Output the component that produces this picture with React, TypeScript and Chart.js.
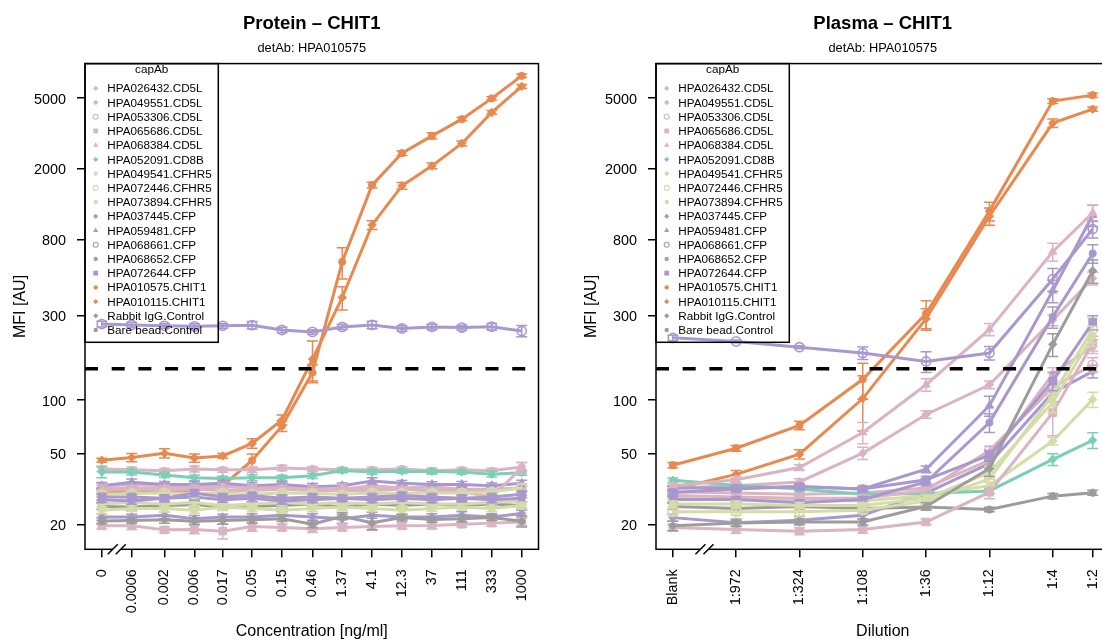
import React, { useEffect, useRef } from 'react';
import { Chart, registerables } from 'chart.js';

Chart.register(...registerables);

const FONT = '"Liberation Sans", Arial, Helvetica, sans-serif';

// ---------------------------------------------------------------- axes
const concLabels = ['0', '0.0006', '0.002', '0.006', '0.017', '0.05', '0.15', '0.46', '1.37', '4.1', '12.3', '37', '111', '333', '1000'];
const concValues = [0, 0.0006, 0.002, 0.006, 0.017, 0.05, 0.15, 0.46, 1.37, 4.1, 12.3, 37, 111, 333, 1000];
const zeroConcPosition = 0.0002; // the 0 ng/ml standard is drawn one 3-fold step left of the break

const dilutionLabels = ['Blank', '1:972', '1:324', '1:108', '1:36', '1:12', '1:4', '1:2'];
const dilutionFactors = [2916, 972, 324, 108, 36, 12, 4, 2]; // blank sits one 3-fold step before 1:972

const mfiTicks = [20, 50, 100, 300, 800, 2000, 5000];
const mfiMin = 14.46;
const mfiMax = 7834;
const cutoffMFI = 150;

// ---------------------------------------------------------------- capture antibodies
type Shape = 'diamond' | 'dot' | 'ring' | 'square' | 'triangle';

const capAbNames = [
  'HPA026432.CD5L', 'HPA049551.CD5L', 'HPA053306.CD5L', 'HPA065686.CD5L', 'HPA068384.CD5L',
  'HPA052091.CD8B',
  'HPA049541.CFHR5', 'HPA072446.CFHR5', 'HPA073894.CFHR5',
  'HPA037445.CFP', 'HPA059481.CFP', 'HPA068661.CFP', 'HPA068652.CFP', 'HPA072644.CFP',
  'HPA010575.CHIT1', 'HPA010115.CHIT1',
  'Rabbit IgG.Control', 'Bare bead.Control',
];
const capAbShapes: Shape[] = [
  'diamond', 'dot', 'ring', 'square', 'triangle',
  'diamond',
  'diamond', 'ring', 'dot',
  'diamond', 'triangle', 'ring', 'dot', 'square',
  'dot', 'diamond',
  'diamond', 'dot',
];
const targetColors: Record<string, string> = {
  CD5L: '#DAB4C3',
  CD8B: '#7BCFB6',
  CFHR5: '#D4DCA7',
  CFP: '#A898CE',
  CHIT1: '#E8894F',
  Control: '#9C9C9C',
};

// ---------------------------------------------------------------- protein dilution series (MFI, mean and sd)
const pCD5L_026432 = [33, 33.5, 33, 32.5, 33, 32, 33, 32.5, 31.5, 33, 32, 32.5, 31.5, 31.5, 32];
const pCD5L_026432_sd = [1.5, 1.2, 1.4, 1.1, 1.6, 1.2, 1.3, 1.5, 1.2, 1.4, 1.1, 1.3, 1.2, 1.4, 1.6];
const pCD5L_049551 = [41, 40.5, 40, 41, 40.5, 40.5, 41.5, 41, 40.5, 40.5, 41, 40, 40.5, 40, 42];
const pCD5L_049551_sd = [1.4, 1.5, 1.2, 1.6, 1.3, 1.4, 1.5, 1.2, 1.3, 1.4, 1.2, 1.5, 1.3, 1.4, 2.5];
const pCD5L_053306 = [31, 31.5, 31, 31.5, 31, 31, 31.5, 31, 31, 31, 31.5, 31, 31.5, 31, 32];
const pCD5L_053306_sd = [1.2, 1.1, 1.3, 1.2, 1.0, 1.2, 1.1, 1.3, 1.2, 1.1, 1.2, 1.0, 1.2, 1.1, 1.5];
const pCD5L_065686 = [19.6, 19.6, 18.6, 18.7, 18.3, 19.4, 19.2, 18.9, 19.2, 19.4, 19.6, 19.7, 20, 20.3, 20.6];
const pCD5L_065686_sd = [0.8, 0.9, 0.7, 1.0, 1.8, 1.1, 0.8, 0.9, 0.8, 0.9, 0.8, 0.8, 0.7, 0.8, 1.0];
const pCD5L_068384 = [32, 32, 32, 32, 32.5, 32, 32, 31.5, 32, 31.5, 31.5, 31, 30.5, 28.5, 41.5];
const pCD5L_068384_sd = [1.3, 1.2, 1.1, 1.2, 1.3, 1.2, 1.1, 1.2, 1.3, 1.2, 1.1, 1.2, 1.2, 1.3, 3.0];
const pCD8B_052091 = [39.4, 39.4, 37.9, 36.6, 36.2, 36.6, 36.6, 37.5, 40.2, 39.4, 39.8, 39.6, 39.4, 38.3, 39];
const pCD8B_052091_sd = [2.8, 1.5, 1.2, 1.3, 1.1, 1.4, 1.2, 1.3, 1.2, 1.3, 1.1, 1.2, 1.2, 1.4, 1.3];
const pCFHR5_049541 = [26, 26.5, 26, 26.5, 25.5, 26, 26.5, 26, 26.5, 26, 26.5, 26, 26, 26.5, 27];
const pCFHR5_049541_sd = [1.0, 0.9, 1.1, 1.0, 1.2, 0.9, 1.0, 1.1, 0.9, 1.0, 1.1, 0.9, 1.0, 1.0, 1.2];
const pCFHR5_072446 = [29.5, 29.8, 30, 29.5, 30, 29.5, 30, 29.8, 29.5, 30, 29.8, 30, 30, 30.5, 32];
const pCFHR5_072446_sd = [1.1, 1.0, 1.2, 1.1, 1.0, 1.2, 1.1, 1.0, 1.1, 1.2, 1.0, 1.1, 1.0, 1.2, 1.8];
const pCFHR5_073894 = [24, 24.5, 24.5, 24, 25, 24.5, 24, 24.5, 25, 24.5, 24, 24.5, 25, 24.5, 25.5];
const pCFHR5_073894_sd = [1.0, 0.9, 1.0, 0.9, 1.1, 1.0, 0.9, 1.0, 1.1, 0.9, 1.0, 0.9, 1.0, 1.0, 1.1];
const pCFP_037445 = [22, 22, 22.5, 21.5, 22, 22, 22.5, 22, 21.5, 22.5, 22, 22, 22.5, 22, 23];
const pCFP_037445_sd = [0.9, 0.8, 1.0, 0.9, 0.8, 0.9, 1.0, 0.9, 1.2, 0.9, 0.8, 0.9, 1.0, 0.9, 1.0];
const pCFP_059481 = [33, 34.5, 33.5, 33.5, 34, 33, 33.5, 32.5, 33, 35, 34, 33.5, 33.5, 33, 34];
const pCFP_059481_sd = [1.2, 1.5, 1.3, 1.2, 1.4, 1.3, 1.2, 1.3, 1.2, 1.5, 1.3, 1.2, 1.3, 1.2, 1.4];
const pCFP_068661 = [268, 265, 262, 260, 262, 264, 248, 242, 258, 265, 253, 258, 256, 259, 245];
const pCFP_068661_sd = [10, 9, 8, 9, 8, 13, 9, 7, 8, 13, 9, 9, 8, 11, 18];
const pCFP_068652 = [27.5, 27, 28, 28.5, 27.5, 28, 27, 27.5, 28, 27.5, 28, 27.5, 28, 27.5, 28];
const pCFP_068652_sd = [1.0, 1.1, 1.0, 1.2, 1.0, 1.1, 1.0, 1.1, 1.0, 1.1, 1.0, 1.1, 1.0, 1.1, 1.2];
const pCFP_072644 = [28.5, 28.5, 28, 30, 28.5, 29, 28, 28.5, 28, 28.5, 29, 28.5, 28, 28.5, 29.5];
const pCFP_072644_sd = [1.1, 1.0, 1.1, 1.3, 1.2, 1.1, 1.0, 1.1, 1.0, 1.1, 1.2, 1.0, 1.1, 1.0, 1.2];
const pCHIT1_010575 = [30.5, 30, 30.5, 31, 33, 45.7, 71.6, 143, 600, 1622, 2454, 3072, 3814, 4990, 6686];
const pCHIT1_010575_sd = [1, 1, 1, 1, 1.5, 4, 5, 15, 120, 60, 70, 120, 80, 110, 150];
const pCHIT1_010115 = [45.9, 47.5, 50.2, 47.2, 48.5, 57, 77.3, 170, 378, 968, 1607, 2082, 2784, 4160, 5828];
const pCHIT1_010115_sd = [1.2, 2.5, 3, 2.5, 1.5, 3.5, 5, 45, 57, 55, 70, 80, 90, 100, 150];
const pCtrl_RabbitIgG = [20.9, 21, 21.2, 20.8, 21, 21.2, 21.5, 20, 22.2, 20.4, 21.8, 21.3, 21.5, 21.8, 20.8];
const pCtrl_RabbitIgG_sd = [0.8, 0.7, 0.9, 0.8, 1.0, 0.9, 0.8, 0.9, 1.0, 1.8, 0.9, 0.8, 0.9, 0.8, 1.5];
const pCtrl_BareBead = [25.2, 25, 25.5, 25.8, 25, 25.3, 25.5, 26, 25, 26, 25.5, 26, 25.5, 26, 25.5];
const pCtrl_BareBead_sd = [1.0, 0.9, 1.0, 1.1, 0.9, 1.0, 0.9, 1.0, 1.1, 1.0, 0.9, 1.0, 0.9, 1.0, 1.0];

// ---------------------------------------------------------------- plasma dilution series (MFI, mean and sd)
const lCD5L_026432 = [32, 33, 34.6, 50.3, 83, 122, 282, 484];
const lCD5L_026432_sd = [1.2, 1.3, 1.5, 4, 4, 6, 20, 40];
const lCD5L_049551 = [30.5, 30, 29.5, 30, 32, 46, 140, 201];
const lCD5L_049551_sd = [1, 1, 1, 1, 1.5, 3, 12, 18];
const lCD5L_053306 = [29, 28.5, 28, 28, 31, 52, 118, 158];
const lCD5L_053306_sd = [1, 1, 1, 1, 1.5, 3, 10, 15];
const lCD5L_065686 = [19.2, 18.7, 18.3, 18.7, 20.6, 30.3, 85, 209];
const lCD5L_065686_sd = [0.8, 0.9, 0.8, 0.9, 0.8, 2.5, 22, 20];
const lCD5L_068384 = [33, 35.6, 41.7, 65.7, 122, 250, 684, 1133];
const lCD5L_068384_sd = [1.2, 1.5, 1.5, 9, 10, 20, 80, 120];
const lCD8B_052091 = [35.4, 33.2, 31.6, 29.5, 29.8, 30.8, 46.4, 59.4];
const lCD8B_052091_sd = [1, 1, 1, 1, 1, 1, 3.5, 6];
const lCFHR5_049541 = [28, 27.5, 27.5, 27, 29, 33, 58.8, 100.7];
const lCFHR5_049541_sd = [1, 1, 1, 1, 1, 1.5, 3, 10];
const lCFHR5_072446 = [23.5, 23.5, 23.5, 24, 27, 36, 107, 250];
const lCFHR5_072446_sd = [1, 1, 1.2, 1, 1.2, 3, 15, 40];
const lCFHR5_073894 = [26, 26, 25.5, 25.5, 28, 39, 97, 230];
const lCFHR5_073894_sd = [1, 1, 1, 1, 1.2, 3, 12, 30];
const lCFP_037445 = [21.8, 20.4, 21.1, 22.5, 30, 44, 110, 145];
const lCFP_037445_sd = [1, 1, 1, 1, 1.2, 3, 12, 12];
const lCFP_059481 = [32, 32, 32.5, 31.6, 40.8, 93, 413, 1100];
const lCFP_059481_sd = [1, 1, 1, 1, 1.8, 12, 60, 150];
const lCFP_068661 = [224, 214, 198.5, 184, 165, 184, 480, 918];
const lCFP_068661_sd = [8, 4, 4, 15, 22, 16, 70, 100];
const lCFP_068652 = [27.6, 27.6, 26.4, 27.6, 34.6, 74.7, 294, 669];
const lCFP_068652_sd = [1, 1, 1, 1, 1.5, 9, 40, 80];
const lCFP_072644 = [30.2, 31.6, 32.6, 31.6, 35.6, 49, 128, 273];
const lCFP_072644_sd = [1, 1, 1.2, 1, 1.5, 3, 15, 25];
const lCHIT1_010575 = [43, 53.6, 72, 131, 307, 1158, 4817, 5206];
const lCHIT1_010575_sd = [1.5, 2, 4, 30, 55, 140, 150, 150];
const lCHIT1_010115 = [31.5, 38.2, 49.6, 102, 287, 1084, 3623, 4341];
const lCHIT1_010115_sd = [1, 2, 3, 35, 40, 120, 200, 120];
const lCtrl_RabbitIgG = [19.6, 20.3, 20.6, 20.6, 25.2, 41.2, 206, 534];
const lCtrl_RabbitIgG_sd = [1.2, 0.8, 0.8, 0.8, 1.2, 4, 30, 80];
const lCtrl_BareBead = [25.2, 24.5, 25.2, 24.5, 25, 24.2, 28.8, 30.1];
const lCtrl_BareBead_sd = [1, 0.8, 0.8, 0.8, 0.8, 0.7, 1, 1];

const proteinMFI = [
  pCD5L_026432, pCD5L_049551, pCD5L_053306, pCD5L_065686, pCD5L_068384, pCD8B_052091,
  pCFHR5_049541, pCFHR5_072446, pCFHR5_073894, pCFP_037445, pCFP_059481, pCFP_068661,
  pCFP_068652, pCFP_072644, pCHIT1_010575, pCHIT1_010115, pCtrl_RabbitIgG, pCtrl_BareBead,
];
const proteinSD = [
  pCD5L_026432_sd, pCD5L_049551_sd, pCD5L_053306_sd, pCD5L_065686_sd, pCD5L_068384_sd, pCD8B_052091_sd,
  pCFHR5_049541_sd, pCFHR5_072446_sd, pCFHR5_073894_sd, pCFP_037445_sd, pCFP_059481_sd, pCFP_068661_sd,
  pCFP_068652_sd, pCFP_072644_sd, pCHIT1_010575_sd, pCHIT1_010115_sd, pCtrl_RabbitIgG_sd, pCtrl_BareBead_sd,
];
const plasmaMFI = [
  lCD5L_026432, lCD5L_049551, lCD5L_053306, lCD5L_065686, lCD5L_068384, lCD8B_052091,
  lCFHR5_049541, lCFHR5_072446, lCFHR5_073894, lCFP_037445, lCFP_059481, lCFP_068661,
  lCFP_068652, lCFP_072644, lCHIT1_010575, lCHIT1_010115, lCtrl_RabbitIgG, lCtrl_BareBead,
];
const plasmaSD = [
  lCD5L_026432_sd, lCD5L_049551_sd, lCD5L_053306_sd, lCD5L_065686_sd, lCD5L_068384_sd, lCD8B_052091_sd,
  lCFHR5_049541_sd, lCFHR5_072446_sd, lCFHR5_073894_sd, lCFP_037445_sd, lCFP_059481_sd, lCFP_068661_sd,
  lCFP_068652_sd, lCFP_072644_sd, lCHIT1_010575_sd, lCHIT1_010115_sd, lCtrl_RabbitIgG_sd, lCtrl_BareBead_sd,
];

// ---------------------------------------------------------------- layout
const CANVAS_W = 571;
const CANVAS_H = 643;
const PLOT_LEFT = 85;
const PLOT_RIGHT = 538.5;
const PLOT_TOP = 63.6;
const PLOT_BOTTOM = 549.3;

const colorOf = (name: string) => targetColors[name.split('.').pop() as string];

// series are painted in alphabetical order of capture antibody (first name at the bottom)
const paintOrder = [...capAbNames].sort();

function pointStyleOf(shape: Shape) {
  switch (shape) {
    case 'diamond': return { style: 'rectRot', radius: 4.2 };
    case 'dot': return { style: 'circle', radius: 3.6 };
    case 'ring': return { style: 'circle', radius: 4.6 };
    case 'square': return { style: 'rect', radius: 5.4 };
    default: return { style: 'triangle', radius: 4.8 };
  }
}

function drawLegendMarker(ctx: CanvasRenderingContext2D, shape: Shape, x: number, y: number, color: string) {
  ctx.save();
  ctx.fillStyle = color;
  ctx.strokeStyle = color;
  ctx.lineWidth = 1.1;
  ctx.beginPath();
  if (shape === 'diamond') {
    const r = 2.6;
    ctx.moveTo(x, y - r); ctx.lineTo(x + r, y); ctx.lineTo(x, y + r); ctx.lineTo(x - r, y); ctx.closePath();
    ctx.fill();
  } else if (shape === 'dot') {
    ctx.arc(x, y, 2.2, 0, Math.PI * 2); ctx.fill();
  } else if (shape === 'ring') {
    ctx.arc(x, y, 2.5, 0, Math.PI * 2); ctx.stroke();
  } else if (shape === 'square') {
    ctx.rect(x - 2.4, y - 2.4, 4.8, 4.8); ctx.fill();
  } else {
    const r = 3;
    ctx.moveTo(x, y - r); ctx.lineTo(x + r * 0.87, y + r * 0.5); ctx.lineTo(x - r * 0.87, y + r * 0.5); ctx.closePath();
    ctx.fill();
  }
  ctx.restore();
}

interface PanelSpec {
  title: string;
  subtitle: string;
  xTitle: string;
  xPositions: number[];
  xLabels: string[];
  values: number[][];
  sds: number[][];
}

function makeDecor(spec: PanelSpec) {
  return {
    id: 'panelDecor',
    afterDatasetDraw(chart: any, args: any) {
      // error bars (mean ± sd) for the dataset just drawn
      const i = args.index;
      const vals = spec.values[i];
      const sd = spec.sds[i];
      const yScale = chart.scales.y;
      const ctx: CanvasRenderingContext2D = chart.ctx;
      ctx.save();
      ctx.strokeStyle = colorOf(capAbNames[i]);
      ctx.lineWidth = 1.5;
      args.meta.data.forEach((pt: any, j: number) => {
        const x = pt.x;
        const yHi = yScale.getPixelForValue(vals[j] + sd[j]);
        const yLo = yScale.getPixelForValue(Math.max(vals[j] - sd[j], 1));
        ctx.beginPath();
        ctx.moveTo(x, yHi); ctx.lineTo(x, yLo);
        ctx.moveTo(x - 5.5, yHi); ctx.lineTo(x + 5.5, yHi);
        ctx.moveTo(x - 5.5, yLo); ctx.lineTo(x + 5.5, yLo);
        ctx.stroke();
      });
      ctx.restore();
    },
    afterDatasetsDraw(chart: any) {
      // detection cut-off
      const ctx: CanvasRenderingContext2D = chart.ctx;
      const area = chart.chartArea;
      const yc = chart.scales.y.getPixelForValue(cutoffMFI);
      ctx.save();
      ctx.strokeStyle = '#000';
      ctx.lineWidth = 3.5;
      ctx.setLineDash([13, 13.7]);
      ctx.beginPath();
      ctx.moveTo(area.left, yc);
      ctx.lineTo(area.right, yc);
      ctx.stroke();
      ctx.restore();
    },
    afterDraw(chart: any) {
      const ctx: CanvasRenderingContext2D = chart.ctx;
      const area = chart.chartArea;
      const cx = (area.left + area.right) / 2;
      ctx.save();

      // plot frame
      ctx.strokeStyle = '#000';
      ctx.lineWidth = 1.5;
      ctx.strokeRect(area.left, area.top, area.right - area.left, area.bottom - area.top);

      // axis break between the blank and the first dilution step
      const xs = chart.scales.x;
      const bx = (xs.getPixelForValue(spec.xPositions[0]) + xs.getPixelForValue(spec.xPositions[1])) / 2;
      const by = area.bottom;
      ctx.fillStyle = '#fff';
      ctx.beginPath();
      ctx.moveTo(bx - 9, by + 5); ctx.lineTo(bx + 1, by - 5); ctx.lineTo(bx + 9, by - 5); ctx.lineTo(bx - 1, by + 5); ctx.closePath();
      ctx.fill();
      ctx.beginPath();
      ctx.moveTo(bx - 9, by + 5); ctx.lineTo(bx + 1, by - 5);
      ctx.moveTo(bx - 1, by + 5); ctx.lineTo(bx + 9, by - 5);
      ctx.stroke();

      // titles
      ctx.fillStyle = '#000';
      ctx.textAlign = 'center';
      ctx.textBaseline = 'alphabetic';
      ctx.font = `bold 18.5px ${FONT}`;
      ctx.fillText(spec.title, cx, 29.3);
      ctx.font = `12.8px ${FONT}`;
      ctx.fillText(spec.subtitle, cx, 51.8);
      ctx.font = `16px ${FONT}`;
      ctx.fillText(spec.xTitle, cx, 635.5);
      ctx.save();
      ctx.translate(24.5, (area.top + area.bottom) / 2);
      ctx.rotate(-Math.PI / 2);
      ctx.fillText('MFI [AU]', 0, 0);
      ctx.restore();

      // legend
      const lx = area.left;
      const ly = area.top;
      const lw = 133.3;
      const lh = 278.7;
      ctx.strokeRect(lx, ly, lw, lh);
      ctx.font = `11.7px ${FONT}`;
      ctx.textAlign = 'center';
      ctx.fillText('capAb', lx + lw / 2, 72.7);
      ctx.textAlign = 'left';
      capAbNames.forEach((name, i) => {
        const y = 88.3 + 14.22 * i;
        drawLegendMarker(ctx, capAbShapes[i], lx + 10.7, y, colorOf(name));
        ctx.fillStyle = '#000';
        ctx.fillText(name, lx + 22.3, y + 4.1);
      });
      ctx.restore();
    },
  };
}

function makeConfig(spec: PanelSpec): any {
  const first = spec.xPositions[0];
  const last = spec.xPositions[spec.xPositions.length - 1];
  const pad = (last - first) * 0.04;
  const datasets = capAbNames.map((name, i) => {
    const color = colorOf(name);
    const shape = capAbShapes[i];
    const ps = pointStyleOf(shape);
    return {
      label: name,
      data: spec.values[i].map((v, j) => ({ x: spec.xPositions[j], y: v })),
      borderColor: color,
      backgroundColor: color,
      borderWidth: 3,
      pointStyle: ps.style,
      pointRadius: ps.radius,
      pointBackgroundColor: shape === 'ring' ? 'rgba(0,0,0,0)' : color,
      pointBorderColor: color,
      pointBorderWidth: shape === 'ring' ? 1.6 : 1,
      tension: 0,
      fill: false,
      order: capAbNames.length - paintOrder.indexOf(name),
    };
  });
  const tickFont = { family: FONT, size: 14.4 };
  const grid = { drawOnChartArea: false, drawTicks: true, tickLength: 8, color: '#000', lineWidth: 1.5 };
  return {
    type: 'line',
    data: { datasets },
    options: {
      animation: false,
      responsive: false,
      devicePixelRatio: 1,
      events: [],
      layout: { padding: { left: 0, right: CANVAS_W - PLOT_RIGHT, top: PLOT_TOP, bottom: 0 } },
      plugins: { legend: { display: false }, tooltip: { enabled: false }, title: { display: false } },
      scales: {
        x: {
          type: 'linear',
          min: first - pad,
          max: last + pad,
          bounds: 'data',
          afterBuildTicks: (s: any) => { s.ticks = spec.xPositions.map((v) => ({ value: v })); },
          afterFit: (s: any) => { s.height = CANVAS_H - PLOT_BOTTOM; s.paddingLeft = 0; s.paddingRight = 0; },
          ticks: {
            autoSkip: false,
            minRotation: 90,
            maxRotation: 90,
            padding: 12,
            color: '#000',
            font: tickFont,
            callback: (_v: any, i: number) => spec.xLabels[i],
          },
          grid,
          border: { display: false },
        },
        y: {
          type: 'logarithmic',
          min: mfiMin,
          max: mfiMax,
          bounds: 'data',
          afterBuildTicks: (s: any) => { s.ticks = mfiTicks.map((v) => ({ value: v })); },
          afterFit: (s: any) => { s.width = PLOT_LEFT; s.paddingTop = 0; s.paddingBottom = 0; },
          ticks: {
            autoSkip: false,
            padding: 11,
            labelOffset: 1.5,
            color: '#000',
            font: tickFont,
            callback: (v: any) => String(v),
          },
          grid,
          border: { display: false },
        },
      },
    },
    plugins: [makeDecor(spec)],
  };
}

const proteinPanel: PanelSpec = {
  title: 'Protein \u2013 CHIT1',
  subtitle: 'detAb: HPA010575',
  xTitle: 'Concentration [ng/ml]',
  xPositions: concValues.map((c) => Math.log10(c === 0 ? zeroConcPosition : c)),
  xLabels: concLabels,
  values: proteinMFI,
  sds: proteinSD,
};

const plasmaPanel: PanelSpec = {
  title: 'Plasma \u2013 CHIT1',
  subtitle: 'detAb: HPA010575',
  xTitle: 'Dilution',
  xPositions: dilutionFactors.map((d) => -Math.log10(d)),
  xLabels: dilutionLabels,
  values: plasmaMFI,
  sds: plasmaSD,
};

function Panel({ spec, left }: { spec: PanelSpec; left: number }) {
  const ref = useRef<HTMLCanvasElement>(null);
  useEffect(() => {
    const chart = new Chart(ref.current as HTMLCanvasElement, makeConfig(spec));
    return () => chart.destroy();
  }, [spec]);
  return (
    <canvas
      ref={ref}
      width={CANVAS_W}
      height={CANVAS_H}
      style={{ position: 'absolute', left, top: 0, width: CANVAS_W, height: CANVAS_H }}
    />
  );
}

export default function App() {
  return (
    <div
      style={{
        position: 'fixed',
        left: 0,
        top: 0,
        width: 1102,
        height: 643,
        overflow: 'hidden',
        background: '#fff',
      }}
    >
      <Panel spec={proteinPanel} left={0} />
      <Panel spec={plasmaPanel} left={CANVAS_W} />
    </div>
  );
}
